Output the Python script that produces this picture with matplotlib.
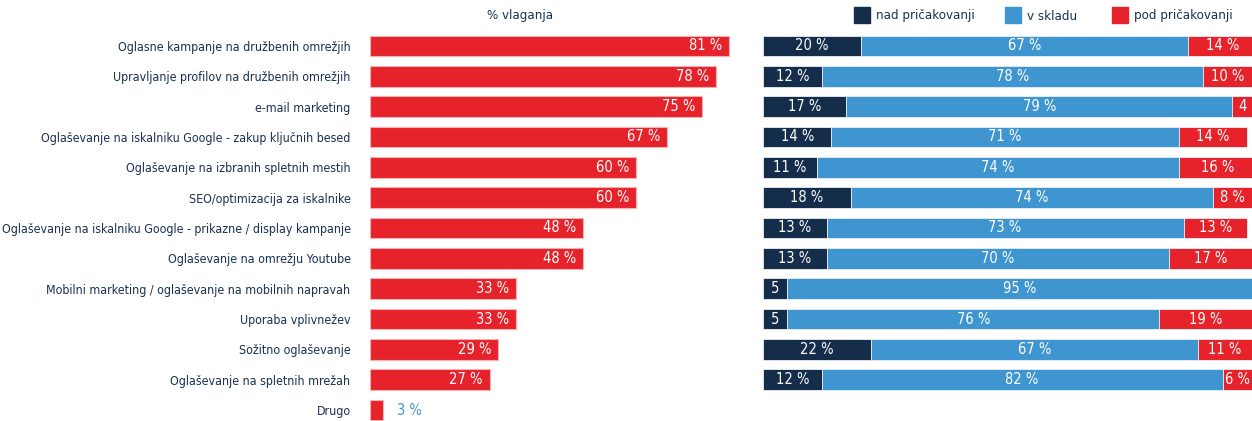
import matplotlib.pyplot as plt
import matplotlib.patches as mpatches
from matplotlib import font_manager
import numpy as np

categories = [
    "Oglasne kampanje na družbenih omrežjih",
    "Upravljanje profilov na družbenih omrežjih",
    "e-mail marketing",
    "Oglaševanje na iskalniku Google - zakup ključnih besed",
    "Oglaševanje na izbranih spletnih mestih",
    "SEO/optimizacija za iskalnike",
    "Oglaševanje na iskalniku Google - prikazne / display kampanje",
    "Oglaševanje na omrežju Youtube",
    "Mobilni marketing / oglaševanje na mobilnih napravah",
    "Uporaba vplivnežev",
    "Sožitno oglaševanje",
    "Oglaševanje na spletnih mrežah",
    "Drugo",
]
vlaganja = [81, 78, 75, 67, 60, 60, 48, 48, 33, 33, 29, 27, 3]

# stacked part (no row for "Drugo")
nad = [20, 12, 17, 14, 11, 18, 13, 13, 5, 5, 22, 12]
skladu = [67, 78, 79, 71, 74, 74, 73, 70, 95, 76, 67, 82]
pod = [14, 10, 4, 14, 16, 8, 13, 17, 0, 19, 11, 6]
legend_labels = ["nad pričakovanji", "v skladu", "pod pričakovanji"]

RED = "#E6222B"
NAVY = "#132D4B"
BLUE = "#3E95CF"
TXT = "#1A3150"

cond = [f for f in font_manager.fontManager.ttflist
        if f.name == "DejaVu Sans" and f.stretch == "condensed" and f.style == "normal"]
plt.rcParams["font.family"] = ["DejaVu Sans"]
if cond:
    plt.rcParams["font.stretch"] = "condensed"
fs, lfs = 10.5, 8.9

fig = plt.figure(figsize=(12.52, 4.21), dpi=100)
W, H = 1252, 421
unit = 30.34
top_px = 46 - unit / 2
h_px = H - top_px
ymax = 12 + (H - 410) / unit

ax1 = fig.add_axes([370 / W, 0, (763 - 370) / W, h_px / H])
ax2 = fig.add_axes([763 / W, 0, (1252 - 763) / W, h_px / H])

y = np.arange(len(categories))
bh = 0.68
ax1.barh(y, vlaganja, height=bh, color=RED, edgecolor="#f4b0b2", linewidth=0.8)
ax1.set_xlim(0, (763 - 370) / 4.43)
ax1.set_ylim(ymax, -0.5)
ax1.set_yticks(y)
ax1.set_yticklabels(categories, fontsize=lfs, color=TXT)
ax1.tick_params(axis="y", length=0, pad=14)
ax1.set_xticks([])
for i, v in enumerate(vlaganja):
    if v >= 10:
        ax1.text(v - 1.5, i, f"{v} %", ha="right", va="center", color="white", fontsize=fs)
    else:
        ax1.text(v + 3.0, i, f"{v} %", ha="left", va="center", color=BLUE, fontsize=fs)
fig.text(520 / W, 1 - 16 / H, "% vlaganja", ha="center", va="center", fontsize=9.5, color=TXT)

y2 = np.arange(len(nad))
left = np.zeros(len(nad))
for vals, col in zip([nad, skladu, pod], [NAVY, BLUE, RED]):
    vals = np.array(vals)
    ax2.barh(y2, vals, left=left, height=bh, color=col, edgecolor="#e8eef5", linewidth=0.6)
    for i, v in enumerate(vals):
        if v > 0:
            s = f"{v} %" if v >= 6 else f"{v}"
            ax2.text(left[i] + v / 2, i, s, ha="center", va="center", color="white", fontsize=fs)
    left += vals
ax2.set_xlim(0, 100)
ax2.set_ylim(ymax, -0.5)
ax2.set_xticks([])
ax2.set_yticks([])

for ax in (ax1, ax2):
    for sp in ax.spines.values():
        sp.set_visible(False)

# legend: square + label at fixed pixel spots
for x0, c, lab in zip([854, 1005, 1112], [NAVY, BLUE, RED], legend_labels):
    fig.patches.append(mpatches.Rectangle((x0 / W, 1 - 23 / H), 16 / W, 16 / H,
                                          transform=fig.transFigure, color=c))
    fig.text((x0 + 22) / W, 1 - 16 / H, lab, ha="left", va="center", fontsize=9.5, color=TXT)

plt.savefig("out.png", dpi=100)
